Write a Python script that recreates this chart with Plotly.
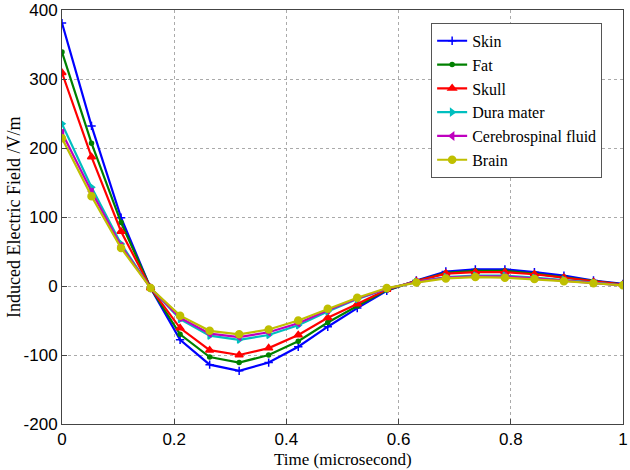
import plotly.graph_objects as go

time = [0, 0.0526, 0.1053, 0.1579, 0.2105, 0.2632, 0.3158, 0.3684, 0.4211, 0.4737,
        0.5263, 0.5789, 0.6316, 0.6842, 0.7368, 0.7895, 0.8421, 0.8947, 0.9474, 1.0]

skin = [381, 232, 99, -3, -78, -114, -123, -111, -88, -59, -32, -7, 8, 21, 24, 24, 20, 15, 8, 3]
fat = [339, 207, 92, -3, -70, -103, -111, -100, -80, -53, -29, -6, 7, 19, 22, 22, 18, 13, 7, 2]
skull = [309, 187, 79, -3, -61, -93, -100, -90, -71, -46, -26, -5, 7, 18, 20, 20, 17, 12, 6, 2]
dura = [235, 143, 61, -3, -48, -72, -78, -71, -57, -37, -19, -4, 6, 13, 15, 15, 12, 9, 5, 1]
csf = [222, 137, 58, -3, -46, -69, -74, -67, -54, -35, -18, -4, 6, 12, 14, 14, 11, 8, 5, 1]
brain = [214, 130, 55, -3, -43, -65, -70, -63, -50, -33, -17, -3, 5, 11, 13, 12, 10, 7, 4, 1]

x_ticks = [0, 0.2, 0.4, 0.6, 0.8, 1]
x_ticklabels = ["0", "0.2", "0.4", "0.6", "0.8", "1"]
y_ticks = [-200, -100, 0, 100, 200, 300, 400]
y_ticklabels = ["-200", "-100", "0", "100", "200", "300", "400"]

names = ["Skin", "Fat", "Skull", "Dura mater", "Cerebrospinal fluid", "Brain"]
series = [skin, fat, skull, dura, csf, brain]
colors = ["#0000FF", "#008000", "#FF0000", "#00BFBF", "#BF00BF", "#BFBF00"]
symbols = ["cross-thin", "circle", "triangle-up", "triangle-right", "triangle-left", "circle"]
sizes = [6, 4, 7, 6, 6, 7]

SERIF = "Liberation Serif"
SANS = "Liberation Sans"

fig = go.Figure()
for n, s, c, sym, sz in zip(names, series, colors, symbols, sizes):
    fig.add_trace(go.Scatter(
        x=time, y=s, name=n, mode="lines+markers",
        line=dict(color=c, width=2.2),
        marker=dict(symbol=sym, size=sz, color=c, line=dict(color=c, width=1.5)),
    ))

axis_common = dict(
    showline=True, linecolor="#444444", linewidth=1, mirror=True,
    ticks="inside", ticklen=5, tickcolor="#444444",
    showgrid=True, gridcolor="#AAAAAA", griddash="dot", gridwidth=1,
    zeroline=False, automargin=False,
    tickfont=dict(family=SANS, size=17, color="black"),
)

fig.update_layout(
    width=630, height=470,
    margin=dict(l=62, r=7, t=10, b=46),
    paper_bgcolor="white", plot_bgcolor="white",
    xaxis=dict(range=[0, 1], tickvals=x_ticks, ticktext=x_ticklabels, **axis_common),
    yaxis=dict(range=[-200, 400], tickvals=y_ticks, ticktext=y_ticklabels, **axis_common),
    legend=dict(x=0.658, y=0.969, xanchor="left", yanchor="top",
                bgcolor="white", bordercolor="#555555", borderwidth=1,
                font=dict(family=SERIF, size=16, color="black"),
                tracegroupgap=0, itemwidth=30),
    showlegend=True,
    annotations=[
        dict(text="Induced Electric Field /V/m", textangle=-90,
             xref="paper", yref="paper", x=-0.0856, y=0.5,
             xanchor="center", yanchor="middle", showarrow=False,
             font=dict(family=SERIF, size=18, color="black")),
        dict(text="Time (microsecond)",
             xref="paper", yref="paper", x=0.5, y=-46 / 414,
             xanchor="center", yanchor="bottom", showarrow=False, borderpad=0,
             font=dict(family=SERIF, size=17, color="black")),
    ],
)

fig.write_html("out.html", config={"displayModeBar": False},
               post_script="document.body.style.margin='0';document.body.style.padding='0';")
